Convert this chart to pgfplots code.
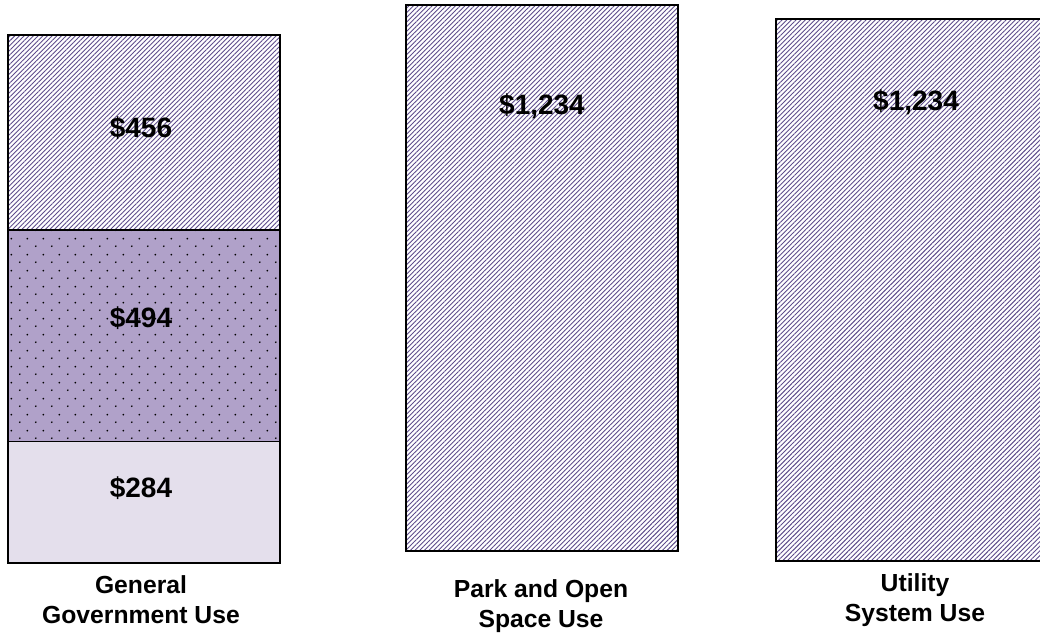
\documentclass[border=0pt]{standalone}
\usepackage{fontspec}
\setmainfont{Liberation Sans}
\usepackage{pgfplots}
\pgfplotsset{compat=1.18}
\usetikzlibrary{patterns,patterns.meta}
\definecolor{hatchc}{HTML}{5E4C8C}
\definecolor{dotbg}{HTML}{B0A1C9}
\definecolor{lightc}{HTML}{E4DFEC}
\pgfdeclarepatternformonly{mydots}{\pgfpointorigin}{\pgfpoint{16pt}{16pt}}{\pgfpoint{16pt}{16pt}}{%
  \pgfpathcircle{\pgfpoint{4pt}{4pt}}{1pt}%
  \pgfpathcircle{\pgfpoint{12pt}{12pt}}{1pt}%
  \pgfusepath{fill}}
\pgfplotsset{
  barax/.style={hide axis, scale only axis, clip=false,
    xmin=-0.5, xmax=0.5, ymin=0, ymax=1234, anchor=south west},
  hatchbar/.style={draw=black, line width=1.5pt, fill=white,
    postaction={pattern={Lines[angle=45,distance=3.3pt,line width=0.9pt]}, pattern color=hatchc}},
}
\begin{document}
\begin{tikzpicture}
\path[use as bounding box] (0,0) rectangle (1040pt,634pt);
\clip (0,0) rectangle (1040pt,634pt);
% Bar 1: General Government Use (stacked)
\begin{axis}[barax, width=272pt, height=528pt, at={(8pt,71pt)},
  ybar stacked, bar width=272pt]
\addplot[draw=black, line width=1.5pt, fill=lightc] coordinates {(0,284)};
\addplot[draw=black, line width=1.5pt, fill=dotbg, postaction={pattern=mydots, pattern color=black}] coordinates {(0,494)};
\addplot[hatchbar] coordinates {(0,456)};
\end{axis}
% Bar 2: Park and Open Space Use
\begin{axis}[barax, width=272pt, height=546pt, at={(406pt,83pt)},
  ybar, bar width=272pt]
\addplot[hatchbar] coordinates {(0,1234)};
\end{axis}
% Bar 3: Utility System Use
\begin{axis}[barax, width=272pt, height=542pt, at={(776pt,73pt)},
  ybar, bar width=272pt]
\addplot[hatchbar] coordinates {(0,1234)};
\end{axis}
% value labels
\begin{scope}[every node/.style={font=\fontsize{28}{32}\selectfont\bfseries}]
\node at (141pt,{(634-128)*1pt}) {\$456};
\node at (141pt,{(634-318)*1pt}) {\$494};
\node at (141pt,{(634-488)*1pt}) {\$284};
\node at (542pt,{(634-106)*1pt}) {\$1,234};
\node at (916pt,{(634-102)*1pt}) {\$1,234};
\end{scope}
% category labels
\begin{scope}[every node/.style={font=\fontsize{24.7}{30}\selectfont\bfseries, align=center}]
\node at (141pt,{(634-600)*1pt}) {General\\Government Use};
\node at (541pt,{(634-606)*1pt}) {Park and Open\\Space Use};
\node at (915pt,{(634-600)*1pt}) {Utility\\System Use};
\end{scope}
\end{tikzpicture}
\end{document}
